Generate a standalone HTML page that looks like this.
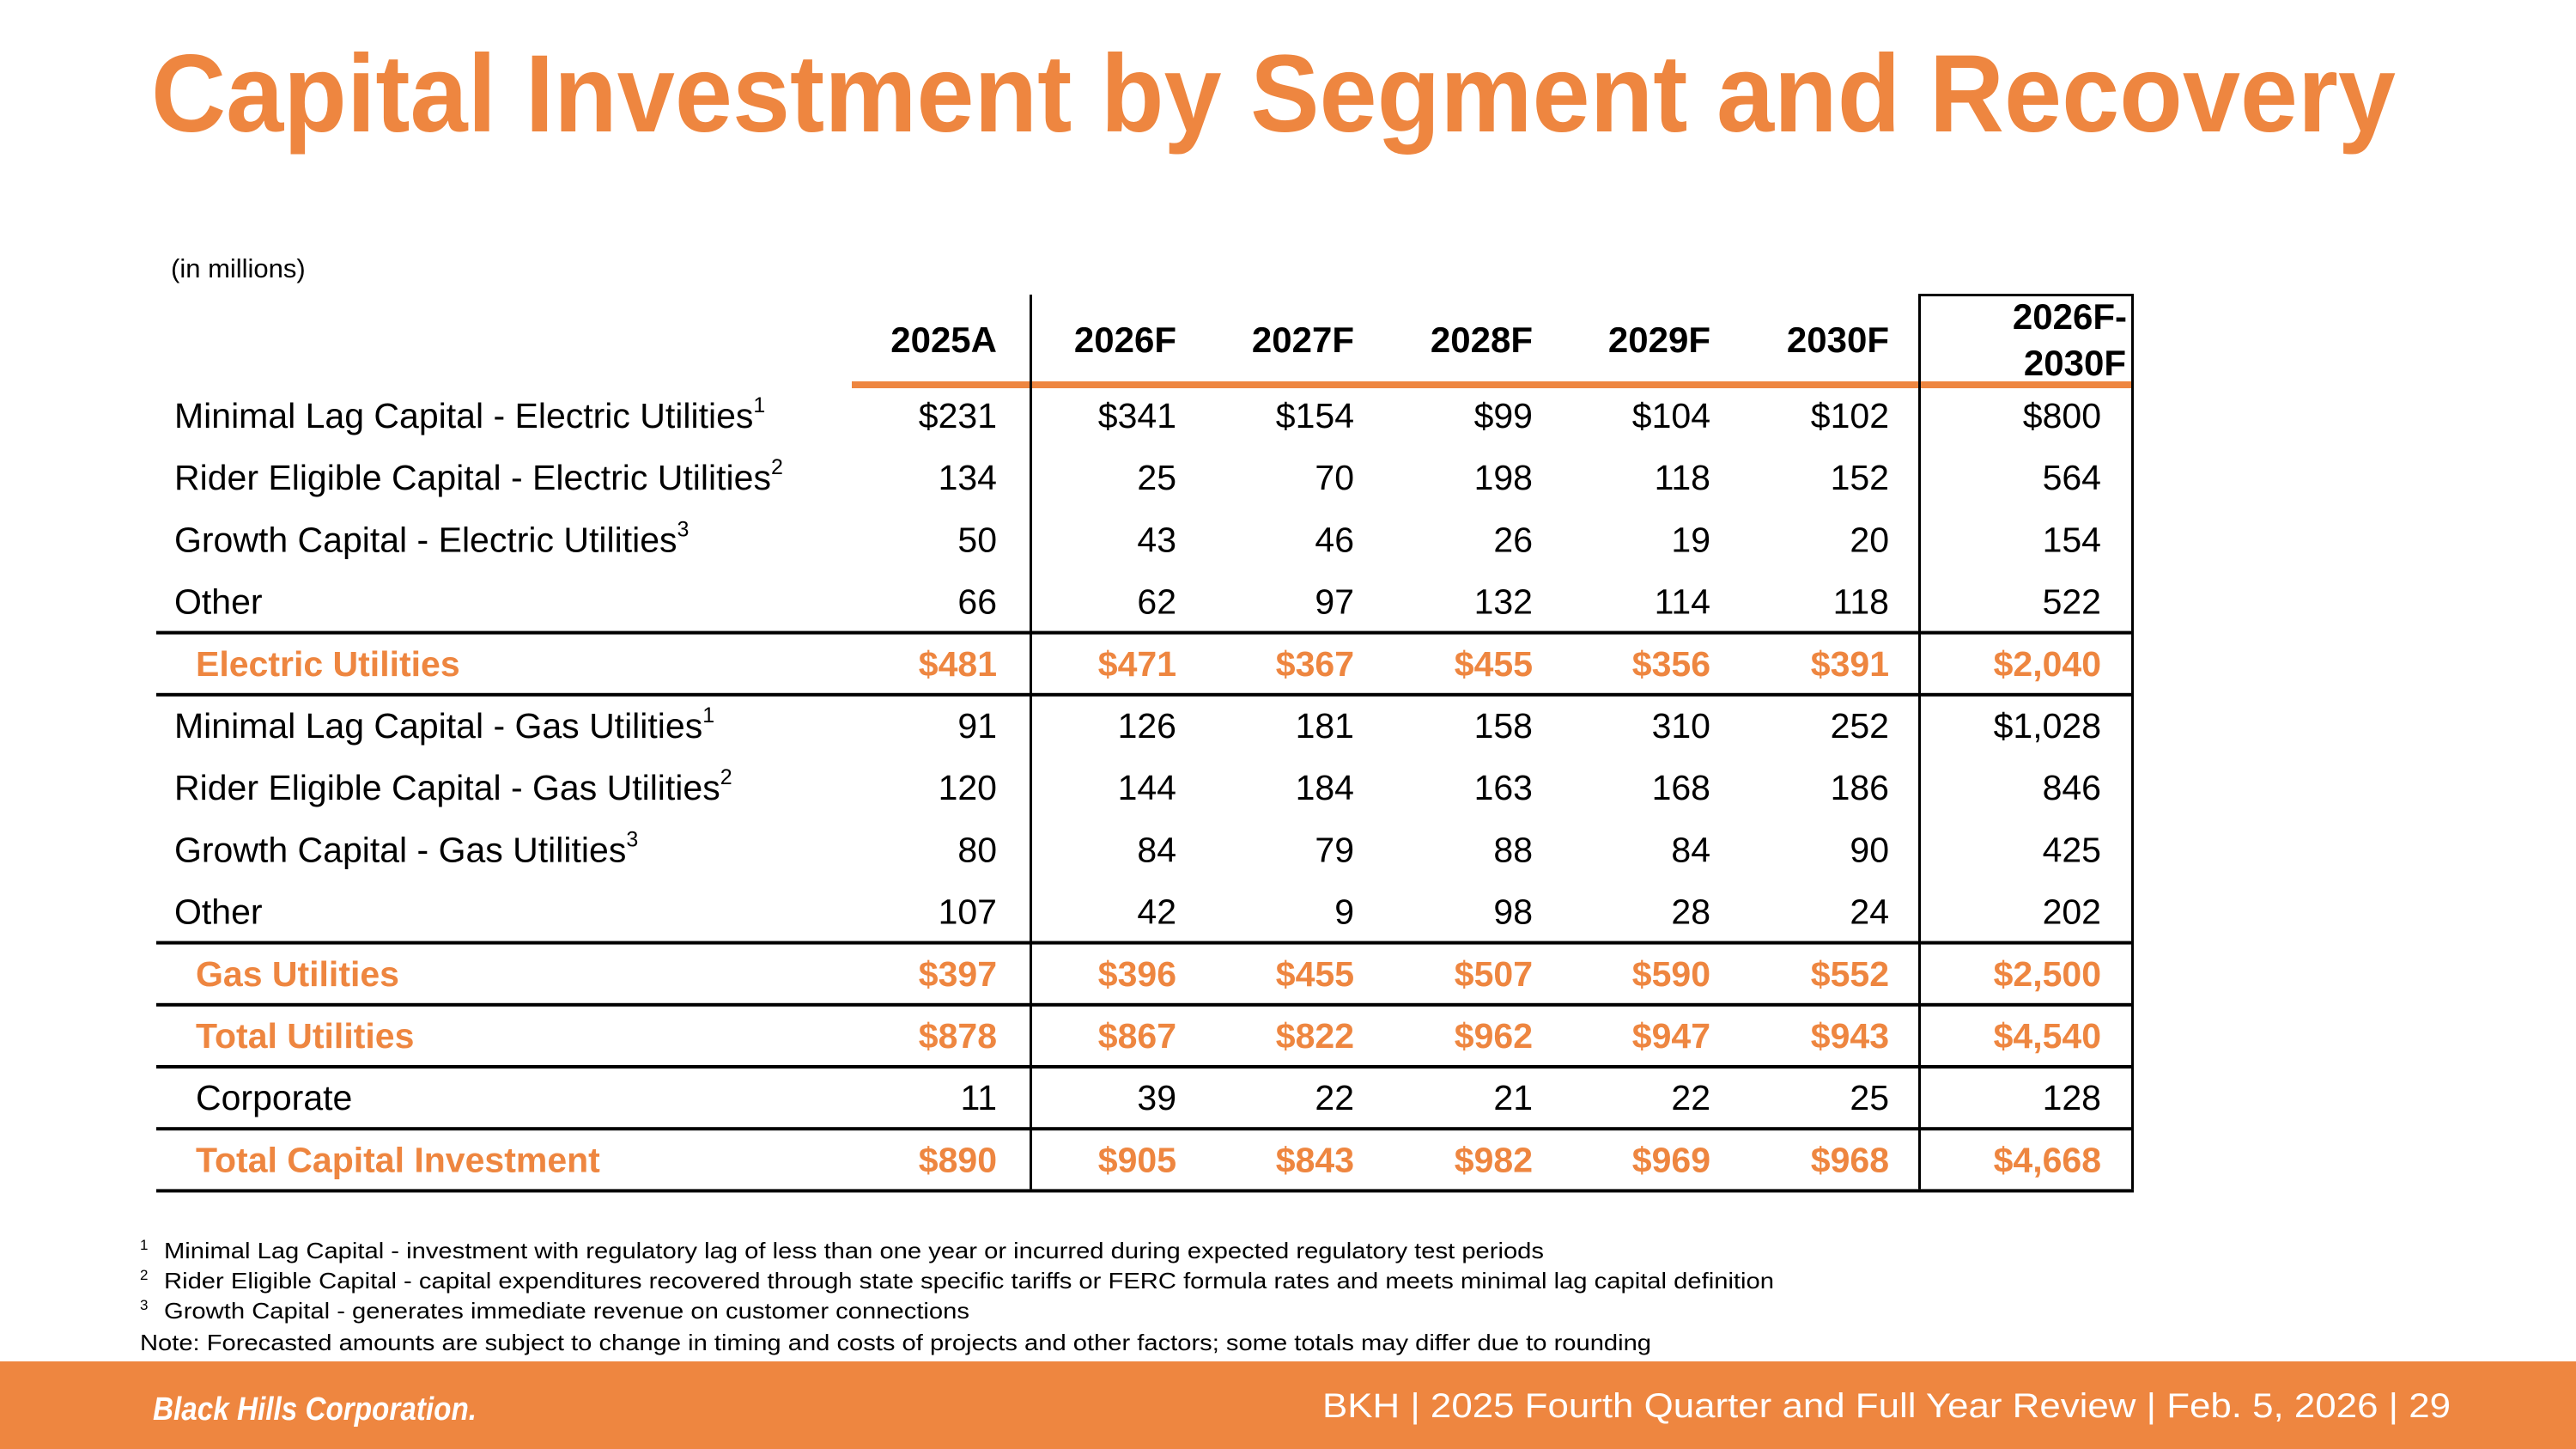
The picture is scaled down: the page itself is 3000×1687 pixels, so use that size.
<!DOCTYPE html>
<html><head><meta charset="utf-8"><style>
html,body{margin:0;padding:0;background:#fff;}
svg{display:block;font-family:"Liberation Sans",Arial,sans-serif;}
</style></head><body>
<svg id="s" width="3000" height="1687" viewBox="0 0 3000 1687" xmlns="http://www.w3.org/2000/svg">
<text x="176" y="153" font-size="128" font-weight="bold" fill="#EE8640" textLength="2614" lengthAdjust="spacingAndGlyphs">Capital Investment by Segment and Recovery</text>
<text x="199" y="323" font-size="31" fill="#000">(in millions)</text>
<g id="table"></g>
<g font-size="26" fill="#000">
<text x="163" y="1455" font-size="17">1</text><text x="191" y="1465" textLength="1607" lengthAdjust="spacingAndGlyphs">Minimal Lag Capital - investment with regulatory lag of less than one year or incurred during expected regulatory test periods</text>
<text x="163" y="1490" font-size="17">2</text><text x="191" y="1500" textLength="1875" lengthAdjust="spacingAndGlyphs">Rider Eligible Capital - capital expenditures recovered through state specific tariffs or FERC formula rates and meets minimal lag capital definition</text>
<text x="163" y="1525" font-size="17">3</text><text x="191" y="1535" textLength="938" lengthAdjust="spacingAndGlyphs">Growth Capital - generates immediate revenue on customer connections</text>
<text x="163" y="1572" textLength="1760" lengthAdjust="spacingAndGlyphs">Note: Forecasted amounts are subject to change in timing and costs of projects and other factors; some totals may differ due to rounding</text>
</g>
<rect x="0" y="1585" width="3000" height="102" fill="#EE8640"/>
<text x="178" y="1653" font-size="38" font-weight="bold" font-style="italic" fill="#fff" textLength="377" lengthAdjust="spacingAndGlyphs">Black Hills Corporation.</text>
<text x="1540" y="1650" font-size="40" fill="#fff" textLength="1314" lengthAdjust="spacingAndGlyphs">BKH  |  2025 Fourth Quarter and Full Year Review  |  Feb. 5, 2026  |  29</text>
</svg>
<script>
const columnHeaders = ["2025A","2026F","2027F","2028F","2029F","2030F"];
const rowLabels = ["Minimal Lag Capital - Electric Utilities","Rider Eligible Capital - Electric Utilities","Growth Capital - Electric Utilities","Other","Electric Utilities","Minimal Lag Capital - Gas Utilities","Rider Eligible Capital - Gas Utilities","Growth Capital - Gas Utilities","Other","Gas Utilities","Total Utilities","Corporate","Total Capital Investment"];
const rowFootnote = ["1","2","3","","","1","2","3","","","","",""];
const rowIsTotal = [false,false,false,false,true,false,false,false,false,true,true,false,true];
const rowIndented = [false,false,false,false,true,false,false,false,false,true,true,true,true];
const col2025A = ["$231","134","50","66","$481","91","120","80","107","$397","$878","11","$890"];
const col2026F = ["$341","25","43","62","$471","126","144","84","42","$396","$867","39","$905"];
const col2027F = ["$154","70","46","97","$367","181","184","79","9","$455","$822","22","$843"];
const col2028F = ["$99","198","26","132","$455","158","163","88","98","$507","$962","21","$982"];
const col2029F = ["$104","118","19","114","$356","310","168","84","28","$590","$947","22","$969"];
const col2030F = ["$102","152","20","118","$391","252","186","90","24","$552","$943","25","$968"];
const colTotal = ["$800","564","154","522","$2,040","$1,028","846","425","202","$2,500","$4,540","128","$4,668"];
const lineAfterRows = [3,4,8,9,10,11,12];

const NS="http://www.w3.org/2000/svg";
const g=document.getElementById('table');
const ORANGE="#EE8640";
const colRight=[1161,1370,1577,1785,1992,2200];
const totalRight=2447;
const rowY=i=>498+72.2*i;
function mk(tag,attrs,text){const e=document.createElementNS(NS,tag);for(const k in attrs)e.setAttribute(k,attrs[k]);if(text!==undefined)e.textContent=text;g.appendChild(e);return e;}
columnHeaders.forEach((h,j)=>{
 const t=mk('text',{x:colRight[j],y:410,'font-size':42,'font-weight':'bold','text-anchor':'end',fill:'#000'},h);
 
 
});
const hdr1=mk('text',{x:2477,y:383,'font-size':42,'font-weight':'bold','text-anchor':'end'},'2026F-');


const hdr2=mk('text',{x:2476,y:437,'font-size':42,'font-weight':'bold','text-anchor':'end'},'2030F');


const underline=mk('rect',{x:992,y:444,width:1493,height:8,fill:ORANGE});


const cols=[col2025A,col2026F,col2027F,col2028F,col2029F,col2030F];
rowLabels.forEach((lab,i)=>{
 const y=rowY(i);
 const color=rowIsTotal[i]?ORANGE:'#000';
 const fw=rowIsTotal[i]?'bold':'normal';
 const lt=mk('text',{x:rowIndented[i]?228:203,y:y,'font-size':41,'font-weight':fw,fill:color},lab);
 
 
 if(rowFootnote[i]){const sp=document.createElementNS(NS,'tspan');sp.setAttribute('font-size','25');sp.setAttribute('dy','-18');sp.textContent=rowFootnote[i];lt.appendChild(sp);}
 cols.forEach((c,j)=>{
  const v=mk('text',{x:colRight[j],y:y,'font-size':41,'font-weight':fw,fill:color,'text-anchor':'end'},c[i]);
  
  
 });
 const tv=mk('text',{x:totalRight,y:y,'font-size':41,'font-weight':fw,fill:color,'text-anchor':'end'},colTotal[i]);
 
 
});
lineAfterRows.forEach(i=>{
 const ly=rowY(i)+20;
 const l=mk('rect',{x:182,y:ly,width:2303,height:4,fill:'#000'});
 
 
});
const tableBottom=rowY(12)+20;
[[1199,343],[2234,343],[2482,343]].forEach(p=>{
 const v=mk('rect',{x:p[0],y:p[1],width:3,height:tableBottom-p[1],fill:'#000'});
 
 
});
const boxTop=mk('rect',{x:2234,y:342,width:251,height:3,fill:'#000'});


</script>
</body></html>
